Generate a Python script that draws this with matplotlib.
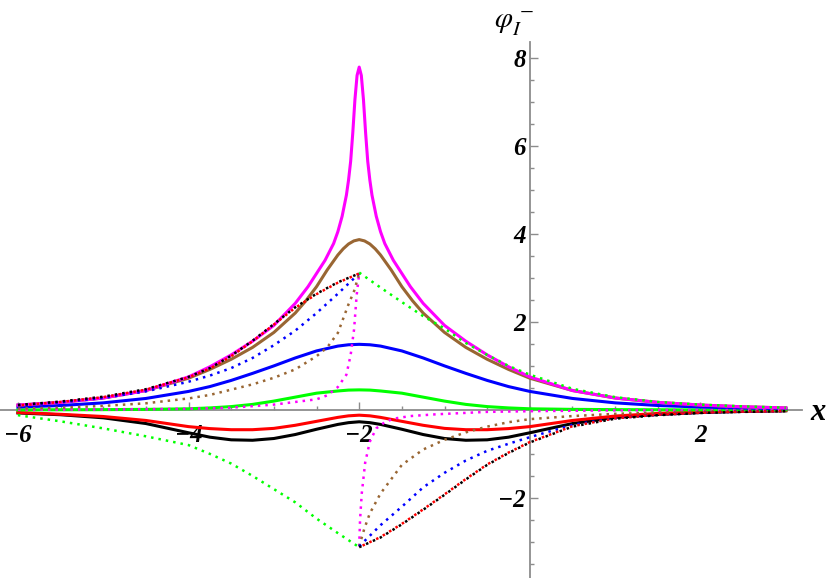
import numpy as np
import matplotlib
matplotlib.use("Agg")
import matplotlib.pyplot as plt
from matplotlib.ticker import MultipleLocator, FixedLocator

# ---- solid curves (symmetric about x = -2) ----
x_sol = [-6, -5.5, -5, -4.5, -4, -3.75, -3.5, -3.25, -3, -2.75, -2.5, -2.25, -2.125, -2,
         -1.875, -1.75, -1.5, -1.25, -1, -0.75, -0.5, -0.25, 0, 0.5, 1, 1.5, 2, 2.5, 3]
blue_sol = [0.065, 0.10, 0.16, 0.26, 0.42, 0.53, 0.67, 0.83, 1.00, 1.18, 1.34, 1.45, 1.48, 1.49,
            1.48, 1.45, 1.34, 1.18, 1.00, 0.83, 0.67, 0.53, 0.42, 0.26, 0.16, 0.10, 0.065, 0.04, 0.03]
green_sol = [0.0, 0.003, 0.006, 0.012, 0.025, 0.045, 0.075, 0.125, 0.20, 0.29, 0.38, 0.43, 0.45, 0.455,
             0.45, 0.43, 0.38, 0.29, 0.20, 0.125, 0.075, 0.045, 0.025, 0.012, 0.006, 0.003, 0.0, 0.0, 0.0]
red_sol = [-0.06, -0.10, -0.15, -0.24, -0.38, -0.425, -0.45, -0.45, -0.42, -0.35, -0.26, -0.17, -0.135, -0.12,
           -0.135, -0.17, -0.26, -0.35, -0.42, -0.45, -0.45, -0.425, -0.38, -0.24, -0.14, -0.08, -0.045, -0.025, -0.015]
black_sol = [-0.07, -0.11, -0.18, -0.31, -0.52, -0.62, -0.68, -0.69, -0.65, -0.56, -0.44, -0.33, -0.29, -0.27,
             -0.29, -0.33, -0.44, -0.56, -0.65, -0.69, -0.68, -0.62, -0.52, -0.31, -0.17, -0.105, -0.06, -0.035, -0.02]

x_brown = [-6, -5.5, -5, -4.5, -4, -3.75, -3.5, -3.25, -3, -2.75, -2.625, -2.5, -2.375, -2.25,
           -2.1875, -2.125, -2.0625, -2, -1.9375, -1.875, -1.8125, -1.75, -1.625, -1.5, -1.375,
           -1.25, -1, -0.75, -0.5, -0.25, 0, 0.5, 1, 1.5, 2, 2.5, 3]
brown_sol = [0.11, 0.17, 0.27, 0.44, 0.72, 0.92, 1.15, 1.42, 1.76, 2.20, 2.48, 2.80, 3.18, 3.52,
             3.66, 3.77, 3.84, 3.87, 3.84, 3.77, 3.66, 3.52, 3.18, 2.80, 2.48,
             2.20, 1.76, 1.42, 1.15, 0.92, 0.72, 0.44, 0.27, 0.17, 0.11, 0.07, 0.045]

x_mag = [-6, -5.5, -5, -4.5, -4, -3.75, -3.5, -3.25, -3, -2.75, -2.6, -2.5, -2.4, -2.3, -2.25, -2.2,
         -2.15, -2.125, -2.1, -2.075, -2.05, -2.025, -2, -1.975, -1.95, -1.925, -1.9, -1.875, -1.85,
         -1.8, -1.75, -1.7, -1.6, -1.5, -1.4, -1.25, -1, -0.75, -0.5, -0.25, 0, 0.5, 1, 1.5, 2, 2.5, 3]
magenta_sol = [0.11, 0.17, 0.27, 0.44, 0.75, 0.98, 1.25, 1.56, 1.92, 2.42, 2.80, 3.10, 3.40, 3.78, 4.05, 4.40,
               4.88, 5.22, 5.65, 6.30, 7.05, 7.60, 7.79, 7.60, 7.05, 6.30, 5.65, 5.22, 4.88,
               4.40, 4.05, 3.78, 3.40, 3.10, 2.80, 2.42, 1.92, 1.56, 1.25, 0.98, 0.75, 0.44, 0.27, 0.17, 0.11, 0.07, 0.045]

# ---- dotted curves: branch left of x = -2 and branch right of x = -2 ----
x_dl = [-6, -5.5, -5, -4.5, -4, -3.75, -3.5, -3.25, -3, -2.75, -2.5, -2.25, -2]
black_dot_l = [0.11, 0.19, 0.30, 0.47, 0.75, 0.95, 1.23, 1.57, 1.95, 2.33, 2.64, 2.90, 3.10]
red_dot_l = [0.10, 0.18, 0.29, 0.46, 0.74, 0.94, 1.22, 1.56, 1.94, 2.32, 2.63, 2.89, 3.10]
blue_dot_l = [0.11, 0.17, 0.27, 0.42, 0.64, 0.78, 0.95, 1.18, 1.47, 1.80, 2.20, 2.64, 3.10]
green_dot_l = [-0.12, -0.26, -0.42, -0.60, -0.80, -1.00, -1.22, -1.50, -1.80, -2.10, -2.47, -2.80, -3.12]

x_brown_dl = [-6, -5.5, -5, -4.5, -4, -3.75, -3.5, -3.25, -3, -2.75, -2.5, -2.375, -2.25, -2.125, -2.06, -2]
brown_dot_l = [0.03, 0.05, 0.09, 0.15, 0.26, 0.34, 0.46, 0.58, 0.73, 0.92, 1.22, 1.42, 1.75, 2.40, 2.70, 3.10]

x_mag_dl = [-6, -5, -4.5, -4, -3.5, -3, -2.75, -2.5, -2.375, -2.25, -2.15, -2.1, -2.06, -2.03, -2]
magenta_dot_l = [0.005, 0.01, 0.015, 0.025, 0.05, 0.12, 0.18, 0.24, 0.33, 0.52, 0.80, 1.25, 1.83, 2.60, 3.10]

x_dr = [-2, -1.75, -1.5, -1.25, -1, -0.75, -0.5, -0.25, 0, 0.5, 1, 1.5, 2, 2.5, 3]
black_dot_r = [-3.12, -2.90, -2.60, -2.27, -1.93, -1.58, -1.25, -0.98, -0.74, -0.38, -0.20, -0.12, -0.07, -0.045, -0.03]
red_dot_r = [-3.12, -2.89, -2.59, -2.26, -1.92, -1.57, -1.24, -0.97, -0.73, -0.37, -0.19, -0.11, -0.065, -0.04, -0.03]
blue_dot_r = [-3.10, -2.62, -2.20, -1.76, -1.43, -1.15, -0.93, -0.77, -0.62, -0.34, -0.19, -0.11, -0.065, -0.04, -0.03]
green_dot_r = [3.12, 2.78, 2.45, 2.13, 1.85, 1.52, 1.25, 1.00, 0.80, 0.48, 0.29, 0.18, 0.12, 0.08, 0.05]

x_brown_dr = [-2, -1.94, -1.875, -1.75, -1.5, -1.25, -1, -0.75, -0.5, -0.25, 0, 0.5, 1, 1.5, 2, 2.5, 3]
brown_dot_r = [-3.10, -2.70, -2.35, -1.90, -1.25, -0.90, -0.68, -0.51, -0.38, -0.28, -0.21, -0.14, -0.09, -0.06, -0.035, -0.02, -0.015]

x_mag_dr = [-2, -1.99, -1.97, -1.93, -1.875, -1.8, -1.7, -1.6, -1.4, -1.1, -0.5, 0, 1, 2, 3]
magenta_dot_r = [-3.10, -2.50, -1.90, -1.20, -0.72, -0.42, -0.28, -0.20, -0.14, -0.10, -0.045, -0.03, -0.01, -0.005, 0.0]

x_ticks = [-6, -4, -2, 2]
y_ticks = [-2, 2, 4, 6, 8]

MAGENTA = "#FF00FF"
BROWN = "#996633"
BLUE = "#0000FF"
GREEN = "#00FF00"
RED = "#FF0000"
BLACK = "#000000"
AXIS_GRAY = "#8C8C8C"


def main():
    W, H = 830, 578
    plt.rcParams["mathtext.fontset"] = "stix"
    fig = plt.figure(figsize=(W / 100, H / 100), dpi=100)
    ax = fig.add_axes([0, 0, 802 / W, (578 - 42) / H])
    ax.set_xlim(-6.21, 3.19)
    ax.set_ylim(-3.82, 8.36)

    lw_s = 2.2
    lw_d = 1.8
    dots = (0, (1, 2.0))

    # solid curves
    ax.plot(x_sol, black_sol, color=BLACK, lw=lw_s)
    ax.plot(x_sol, red_sol, color=RED, lw=lw_s)
    ax.plot(x_sol, green_sol, color=GREEN, lw=lw_s)
    ax.plot(x_sol, blue_sol, color=BLUE, lw=lw_s)
    ax.plot(x_brown, brown_sol, color=BROWN, lw=lw_s)
    ax.plot(x_mag, magenta_sol, color=MAGENTA, lw=lw_s)

    # dotted curves
    ax.plot(x_mag_dl, magenta_dot_l, color=MAGENTA, lw=lw_d, ls=dots)
    ax.plot(x_mag_dr, magenta_dot_r, color=MAGENTA, lw=lw_d, ls=dots)
    ax.plot(x_brown_dl, brown_dot_l, color=BROWN, lw=lw_d, ls=dots)
    ax.plot(x_brown_dr, brown_dot_r, color=BROWN, lw=lw_d, ls=dots)
    ax.plot(x_dl, blue_dot_l, color=BLUE, lw=lw_d, ls=dots)
    ax.plot(x_dr, blue_dot_r, color=BLUE, lw=lw_d, ls=dots)
    ax.plot(x_dl, green_dot_l, color=GREEN, lw=lw_d, ls=dots)
    ax.plot(x_dr, green_dot_r, color=GREEN, lw=lw_d, ls=dots)
    ax.plot(x_dl, black_dot_l, color=BLACK, lw=lw_d, ls=dots)
    ax.plot(x_dr, black_dot_r, color=BLACK, lw=lw_d, ls=dots)
    ax.plot(x_dl, red_dot_l, color=RED, lw=lw_d, ls=(1.5, (1, 2.0)))
    ax.plot(x_dr, red_dot_r, color=RED, lw=lw_d, ls=(1.5, (1, 2.0)))

    # Mathematica-like axes crossing at the origin
    for side in ("top", "right"):
        ax.spines[side].set_visible(False)
    ax.spines["left"].set_position(("data", 0))
    ax.spines["bottom"].set_position(("data", 0))
    for side in ("left", "bottom"):
        ax.spines[side].set_color(AXIS_GRAY)
        ax.spines[side].set_linewidth(1.3)
        ax.spines[side].set_zorder(1)
    ax.set_facecolor("none")
    ax.set_axisbelow(True)

    ax.xaxis.set_major_locator(FixedLocator(x_ticks))
    ax.xaxis.set_minor_locator(MultipleLocator(0.5))
    ax.yaxis.set_major_locator(FixedLocator(y_ticks))
    ax.yaxis.set_minor_locator(MultipleLocator(0.5))
    ax.tick_params(which="both", direction="in", color=AXIS_GRAY, width=1.0)
    ax.tick_params(which="major", length=5.5)
    ax.tick_params(which="minor", length=3)
    ax.tick_params(axis="x", which="major", pad=10)
    ax.tick_params(axis="y", which="major", pad=3)

    tick_font = dict(family="Liberation Serif", weight="bold", style="italic", size=18)
    ax.set_xticklabels(["\u22126", "\u22124", "\u22122", "2"], fontdict=tick_font)
    ax.set_yticklabels(["\u22122", "2", "4", "6", "8"], fontdict=tick_font)

    fig.text(818 / W, 1 - 412 / H, "x", ha="center", va="center",
             family="Liberation Serif", weight="bold", style="italic", size=22)
    fig.text(514 / W, 1 - 24 / H, r"$\varphi_I^{\,-}$", ha="center", va="center", size=21)

    fig.savefig("out.png", dpi=100, facecolor="white")


main()
